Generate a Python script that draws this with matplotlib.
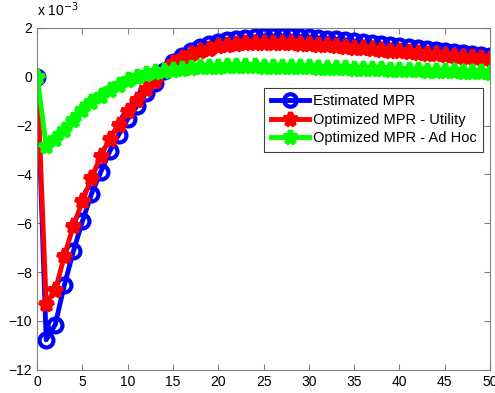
import matplotlib
matplotlib.use('Agg')
import matplotlib.pyplot as plt
import numpy as np

plt.rcParams['font.family'] = ['Liberation Sans', 'DejaVu Sans']

# horizon 0..50, responses in units of 1e-3
horizon = list(range(51))

estimated = [0.00, -10.77, -10.15, -8.54, -7.15, -5.92, -4.80, -3.92, -3.06, -2.37,
             -1.73, -1.21, -0.67, -0.26, 0.22, 0.60, 0.85, 1.05, 1.20, 1.33,
             1.43, 1.50, 1.56, 1.60, 1.63, 1.65, 1.66, 1.66, 1.65, 1.63,
             1.61, 1.58, 1.56, 1.53, 1.49, 1.45, 1.41, 1.37, 1.33, 1.29,
             1.25, 1.21, 1.17, 1.13, 1.09, 1.05, 1.01, 0.97, 0.93, 0.89, 0.85]

utility = [0.00, -9.29, -8.75, -7.35, -6.10, -5.10, -4.15, -3.26, -2.55, -1.96,
           -1.42, -0.94, -0.50, -0.19, 0.22, 0.56, 0.75, 0.92, 1.05, 1.15,
           1.24, 1.30, 1.34, 1.37, 1.39, 1.40, 1.40, 1.39, 1.38, 1.36,
           1.34, 1.31, 1.28, 1.25, 1.22, 1.19, 1.16, 1.13, 1.10, 1.07,
           1.04, 1.01, 0.98, 0.95, 0.92, 0.89, 0.86, 0.82, 0.79, 0.75, 0.72]

adhoc = [0.00, -2.82, -2.55, -2.17, -1.76, -1.35, -1.05, -0.78, -0.53, -0.33,
         -0.15, 0.01, 0.10, 0.18, 0.24, 0.29, 0.33, 0.36, 0.38, 0.40,
         0.41, 0.42, 0.42, 0.42, 0.42, 0.41, 0.41, 0.40, 0.40, 0.39,
         0.38, 0.37, 0.36, 0.35, 0.34, 0.33, 0.32, 0.31, 0.30, 0.29,
         0.28, 0.27, 0.26, 0.25, 0.24, 0.23, 0.22, 0.21, 0.20, 0.19, 0.17]

fig = plt.figure(figsize=(4.95, 3.93), dpi=100)
ax = fig.add_axes([0.075, 0.059, 0.915, 0.870])

ax.plot(horizon, estimated, color='#0000ff', lw=3.5, marker='o', ms=10,
        mew=3, mfc='none', label='Estimated MPR')
ax.plot(horizon, utility, color='#ff0000', lw=3.5, marker='*', ms=11,
        mew=3.5, label='Optimized MPR - Utility')
ax.plot(horizon, adhoc, color='#00ff00', lw=3.5, marker='*', ms=11,
        mew=3.5, label='Optimized MPR - Ad Hoc')

ax.set_xlim(0, 50)
ax.set_ylim(-12, 2)
ax.set_xticks(range(0, 51, 5))
ax.set_yticks(range(-12, 3, 2))
ax.tick_params(direction='in', top=True, right=True, labelsize=10,
               color='#808080', length=4)
for s in ax.spines.values():
    s.set_color('#808080')

ax.text(0.0, 1.025, r'x 10$^{-3}$', transform=ax.transAxes, fontsize=10,
        ha='left', va='bottom')

leg = ax.legend(loc='upper right', bbox_to_anchor=(0.985, 0.825), fontsize=10.5,
                fancybox=False, framealpha=1, edgecolor='#404040',
                borderpad=0.45, labelspacing=0.3, handlelength=2.6,
                handletextpad=0.3, markerscale=0.9, borderaxespad=0)
leg.get_frame().set_linewidth(0.8)

fig.savefig('out.png', dpi=100)
